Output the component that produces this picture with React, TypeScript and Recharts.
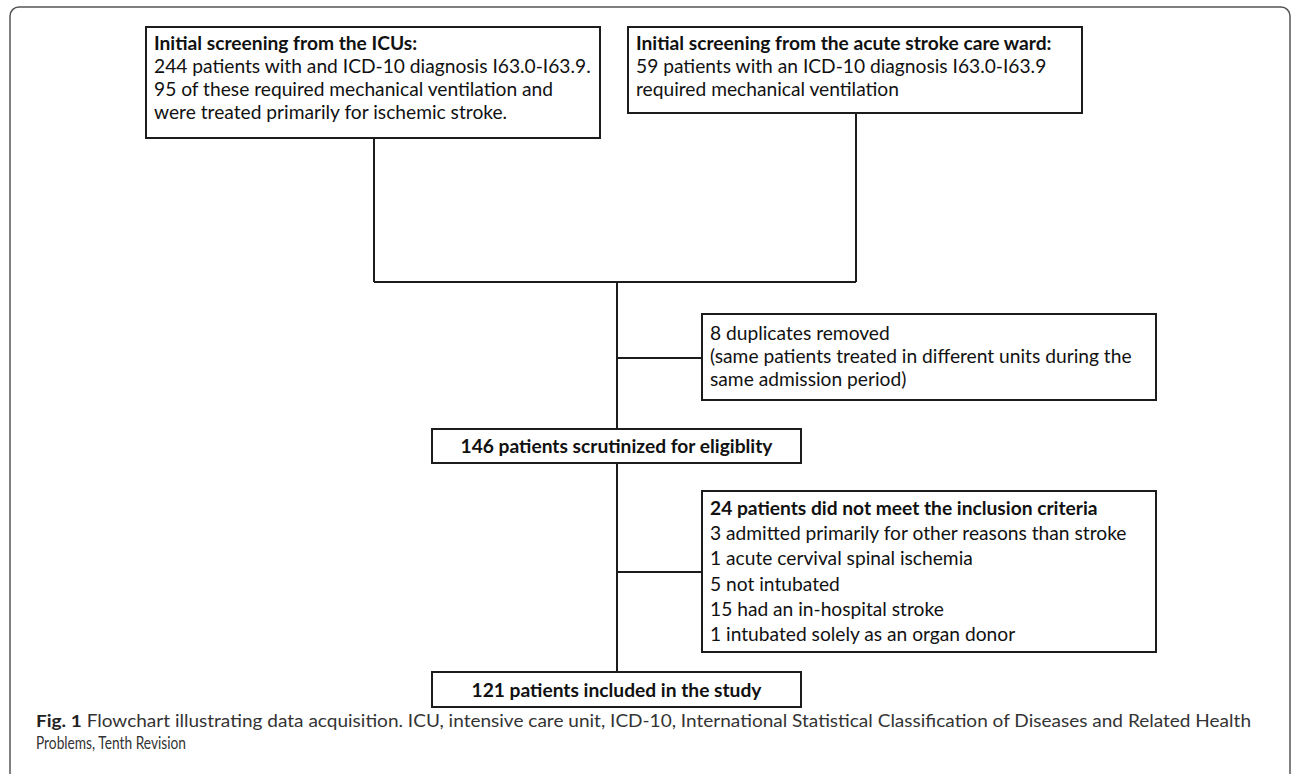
import React from "react";
import { ComposedChart, XAxis, YAxis, ReferenceArea, ReferenceLine } from "recharts";

const W = 1293;
const H = 774;
const INK = "#1c1c1c";

// box contents
const icuLines = [
  "Initial screening from the ICUs:",
  "244 patients with and ICD-10 diagnosis I63.0-I63.9.",
  "95 of these required mechanical ventilation and",
  "were treated primarily for ischemic stroke.",
];
const wardLines = [
  "Initial screening from the acute stroke care ward:",
  "59 patients with an ICD-10 diagnosis I63.0-I63.9",
  "required mechanical ventilation",
];
const duplicateLines = [
  "8 duplicates removed",
  "(same patients treated in different units during the",
  "same admission period)",
];
const eligibleLines = ["146 patients scrutinized for eligiblity"];
const excludedLines = [
  "24 patients did not meet the inclusion criteria",
  "3 admitted primarily for other reasons than stroke",
  "1 acute cervival spinal ischemia",
  "5 not intubated",
  "15 had an in-hospital stroke",
  "1 intubated solely as an organ donor",
];
const includedLines = ["121 patients included in the study"];

const captionLead = "Fig. 1";
const captionLines = [
  "Flowchart illustrating data acquisition. ICU, intensive care unit, ICD-10, International Statistical Classification of Diseases and Related Health",
  "Problems, Tenth Revision",
];

// layout, in axis units (axes run 0..W and 0..H, so one unit is one pixel)
type Box = {
  lines: string[];
  x1: number;
  x2: number;
  y1: number;
  y2: number;
  first: number;
  gap: number;
  center?: boolean;
  bold?: "first" | "all";
};

const boxes: Box[] = [
  { lines: icuLines, x1: 146, x2: 600, y1: 27, y2: 138, first: 23, gap: 23, bold: "first" },
  { lines: wardLines, x1: 628, x2: 1082, y1: 27, y2: 113, first: 23, gap: 23, bold: "first" },
  { lines: duplicateLines, x1: 702, x2: 1156, y1: 314, y2: 400, first: 26, gap: 23 },
  { lines: eligibleLines, x1: 432, x2: 801, y1: 429, y2: 463, first: 24, gap: 0, center: true, bold: "all" },
  { lines: excludedLines, x1: 702, x2: 1156, y1: 491, y2: 652, first: 24, gap: 25.2, bold: "first" },
  { lines: includedLines, x1: 432, x2: 801, y1: 672, y2: 707, first: 25, gap: 0, center: true, bold: "all" },
];

const connectors = [
  [{ x: 374, y: 138 }, { x: 374, y: 282 }],
  [{ x: 856, y: 113 }, { x: 856, y: 282 }],
  [{ x: 374, y: 282 }, { x: 856, y: 282 }],
  [{ x: 617, y: 282 }, { x: 617, y: 429 }],
  [{ x: 617, y: 358 }, { x: 702, y: 358 }],
  [{ x: 617, y: 463 }, { x: 617, y: 672 }],
  [{ x: 617, y: 572 }, { x: 702, y: 572 }],
];

function boxShape(b: Box) {
  return (p: any) => {
    const { x, y, width, height } = p;
    const tx = b.center ? x + width / 2 : x + 8;
    return (
      <g>
        <rect x={x} y={y} width={width} height={height} fill="#fff" stroke={INK} strokeWidth={2} />
        <text
          fontFamily="Lato, 'Open Sans', sans-serif"
          fontSize={19.2}
          fill="#111"
          textAnchor={b.center ? "middle" : "start"}
        >
          {b.lines.map((l, i) => (
            <tspan
              key={i}
              x={tx}
              y={y + b.first + i * b.gap}
              fontWeight={b.bold === "all" || (b.bold === "first" && i === 0) ? 700 : 400}
            >
              {l}
            </tspan>
          ))}
        </text>
      </g>
    );
  };
}

function captionShape(p: any) {
  const { x, y } = p;
  return (
    <g fontFamily="Lato, 'Open Sans', sans-serif" fontSize={17} fill="#333">
      <text x={x} y={y + 11} textLength={1215} lengthAdjust="spacingAndGlyphs">
        <tspan fontWeight={700} fill="#222">{captionLead}</tspan>
        <tspan fontWeight={400}>{"  " + captionLines[0]}</tspan>
      </text>
      <text x={x} y={y + 33} fontWeight={400} textLength={150} lengthAdjust="spacingAndGlyphs">
        {captionLines[1]}
      </text>
    </g>
  );
}

export default function App() {
  return (
    <div style={{ position: "absolute", left: 0, top: 0, width: W, height: H, background: "#fff" }}>
      <ComposedChart width={W} height={H} data={[]} margin={{ top: 0, right: 0, bottom: 0, left: 0 }}>
        <XAxis type="number" dataKey="x" domain={[0, W]} hide allowDataOverflow />
        <YAxis type="number" dataKey="y" domain={[0, H]} reversed hide allowDataOverflow />
        <ReferenceArea
          x1={10}
          x2={1290}
          y1={7}
          y2={H + 30}
          ifOverflow="visible"
          fill="none"
          stroke="#555"
          strokeWidth={1.5}
          radius={9}
        />
        {connectors.map((s, i) => (
          <ReferenceLine key={i} segment={s} stroke={INK} strokeWidth={2} ifOverflow="visible" />
        ))}
        {boxes.map((b, i) => (
          <ReferenceArea
            key={i}
            x1={b.x1}
            x2={b.x2}
            y1={b.y1}
            y2={b.y2}
            ifOverflow="visible"
            shape={boxShape(b)}
          />
        ))}
        <ReferenceArea x1={36} x2={1251} y1={716} y2={750} ifOverflow="visible" shape={captionShape} />
      </ComposedChart>
    </div>
  );
}
